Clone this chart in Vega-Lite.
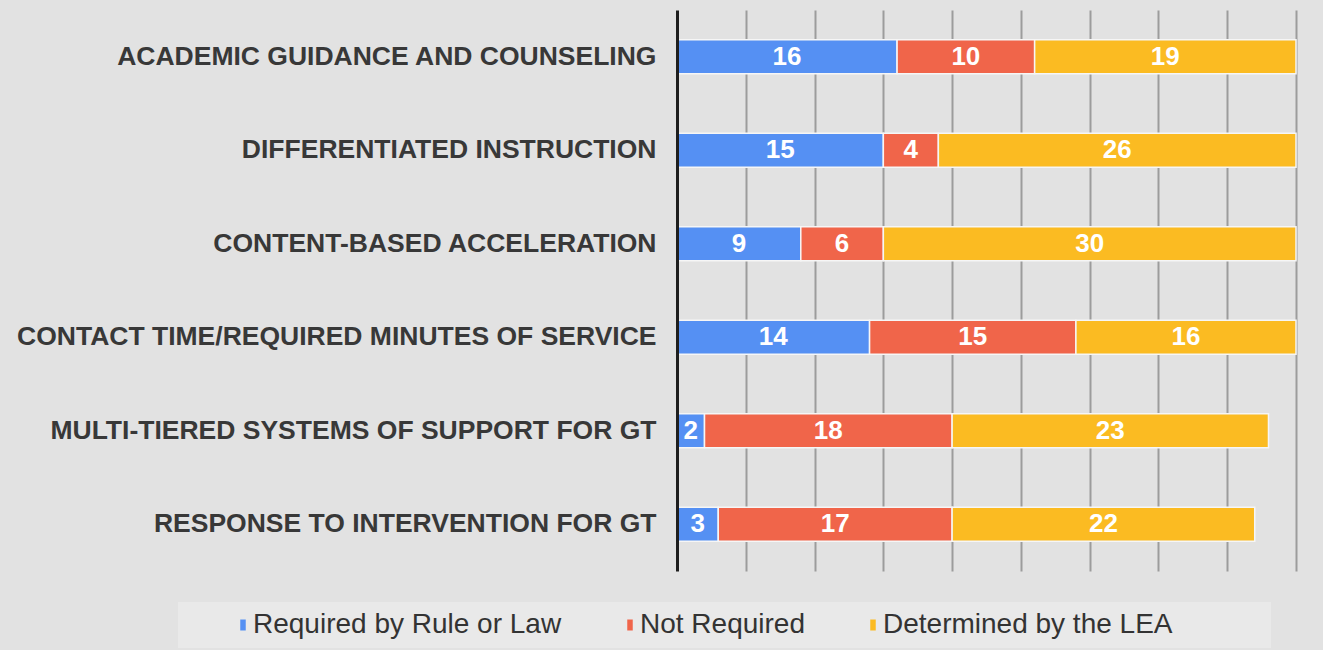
{
  "$schema": "https://vega.github.io/schema/vega-lite/v6.json",
  "width": 619,
  "height": 561,
  "autosize": {"type": "none"},
  "padding": {"left": 677, "top": 10, "right": 27, "bottom": 79},
  "background": "#e2e2e2",
  "config": {
    "view": {"stroke": null},
    "font": "Liberation Sans"
  },
  "data": {
    "values": [
      {"item": "ACADEMIC GUIDANCE AND COUNSELING", "status": "Required by Rule or Law", "k": 1, "n": 16},
      {"item": "ACADEMIC GUIDANCE AND COUNSELING", "status": "Not Required", "k": 2, "n": 10},
      {"item": "ACADEMIC GUIDANCE AND COUNSELING", "status": "Determined by the LEA", "k": 3, "n": 19},
      {"item": "DIFFERENTIATED INSTRUCTION", "status": "Required by Rule or Law", "k": 1, "n": 15},
      {"item": "DIFFERENTIATED INSTRUCTION", "status": "Not Required", "k": 2, "n": 4},
      {"item": "DIFFERENTIATED INSTRUCTION", "status": "Determined by the LEA", "k": 3, "n": 26},
      {"item": "CONTENT-BASED ACCELERATION", "status": "Required by Rule or Law", "k": 1, "n": 9},
      {"item": "CONTENT-BASED ACCELERATION", "status": "Not Required", "k": 2, "n": 6},
      {"item": "CONTENT-BASED ACCELERATION", "status": "Determined by the LEA", "k": 3, "n": 30},
      {"item": "CONTACT TIME/REQUIRED MINUTES OF SERVICE", "status": "Required by Rule or Law", "k": 1, "n": 14},
      {"item": "CONTACT TIME/REQUIRED MINUTES OF SERVICE", "status": "Not Required", "k": 2, "n": 15},
      {"item": "CONTACT TIME/REQUIRED MINUTES OF SERVICE", "status": "Determined by the LEA", "k": 3, "n": 16},
      {"item": "MULTI-TIERED SYSTEMS OF SUPPORT FOR GT", "status": "Required by Rule or Law", "k": 1, "n": 2},
      {"item": "MULTI-TIERED SYSTEMS OF SUPPORT FOR GT", "status": "Not Required", "k": 2, "n": 18},
      {"item": "MULTI-TIERED SYSTEMS OF SUPPORT FOR GT", "status": "Determined by the LEA", "k": 3, "n": 23},
      {"item": "RESPONSE TO INTERVENTION FOR GT", "status": "Required by Rule or Law", "k": 1, "n": 3},
      {"item": "RESPONSE TO INTERVENTION FOR GT", "status": "Not Required", "k": 2, "n": 17},
      {"item": "RESPONSE TO INTERVENTION FOR GT", "status": "Determined by the LEA", "k": 3, "n": 22}
    ]
  },
  "encoding": {
    "y": {
      "field": "item",
      "type": "nominal",
      "sort": null,
      "scale": {"paddingInner": 0.636, "paddingOuter": 0.318},
      "axis": {
        "title": null,
        "ticks": false,
        "domainColor": "#1e1e1e",
        "domainWidth": 3,
        "labelFont": "Liberation Sans",
        "labelFontWeight": "bold",
        "labelFontSize": 26.5,
        "labelColor": "#383838",
        "labelPadding": 21,
        "labelLimit": 700,
        "zindex": 2
      }
    },
    "x": {
      "field": "n",
      "type": "quantitative",
      "stack": "zero",
      "scale": {"domain": [0, 45], "nice": false},
      "axis": {
        "title": null,
        "labels": false,
        "ticks": false,
        "domain": false,
        "values": [5, 10, 15, 20, 25, 30, 35, 40, 45],
        "grid": true,
        "gridColor": "#9c9c9c",
        "gridWidth": 2,
        "zindex": 0
      }
    },
    "order": {"field": "k", "type": "quantitative"}
  },
  "layer": [
    {
      "mark": {"type": "bar", "stroke": "#f6f6f6", "strokeWidth": 1.5},
      "encoding": {
        "color": {
          "field": "status",
          "type": "nominal",
          "sort": ["Required by Rule or Law", "Not Required", "Determined by the LEA"],
          "scale": {
            "domain": ["Required by Rule or Law", "Not Required", "Determined by the LEA"],
            "range": ["#5590f3", "#f0654a", "#fbbb22"]
          },
          "legend": {
            "title": "\u00a0",
            "titleOrient": "right",
            "titlePadding": 90,
            "orient": "none",
            "legendX": -499,
            "legendY": 592,
            "direction": "horizontal",
            "columns": 3,
            "fillColor": "#e9e9e9",
            "padding": 9,
            "symbolType": "M-0.5,-1H0.5V1H-0.5Z",
            "symbolSize": 121,
            "symbolStrokeWidth": 0,
            "symbolOffset": 42,
            "labelFont": "Liberation Sans",
            "labelFontSize": 28,
            "labelColor": "#333333",
            "labelOffset": -4,
            "labelLimit": 500,
            "columnPadding": 12
          }
        }
      }
    },
    {
      "mark": {"type": "text", "color": "white", "fontWeight": "bold", "fontSize": 26, "baseline": "middle", "font": "Liberation Sans"},
      "encoding": {
        "x": {"field": "n", "type": "quantitative", "stack": "zero", "bandPosition": 0.5},
        "text": {"field": "n", "type": "quantitative"}
      }
    }
  ]
}
